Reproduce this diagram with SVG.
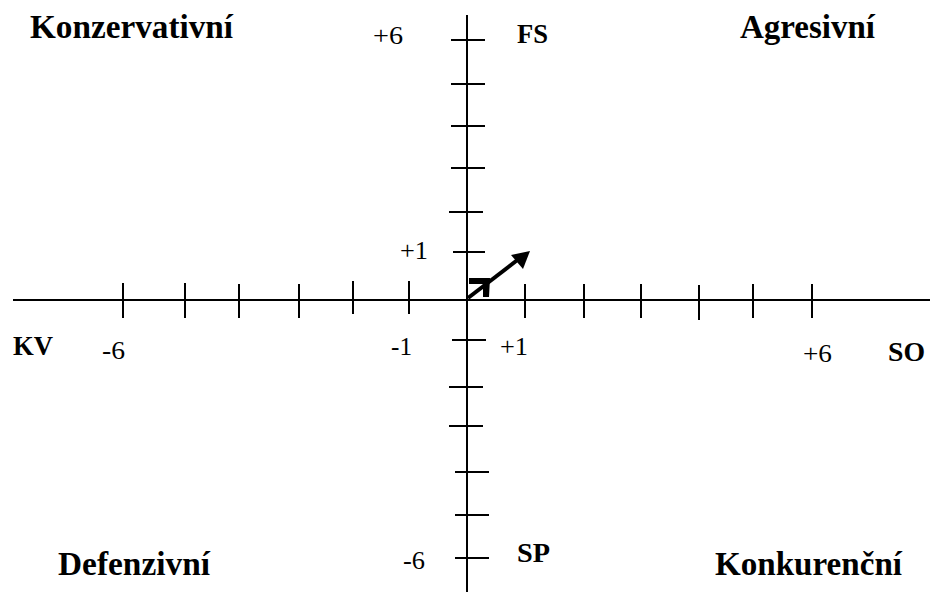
<svg xmlns="http://www.w3.org/2000/svg" width="930" height="592" viewBox="0 0 930 592">
<style>
.ax{stroke:#000;stroke-width:2;fill:none}
.tk{stroke:#000;stroke-width:2}
.q{font-family:"Liberation Serif","Times New Roman",serif;font-weight:bold;font-size:33px;fill:#000}
.ax-l{font-family:"Liberation Serif","Times New Roman",serif;font-weight:bold;font-size:27px;fill:#000}
.n{font-family:"Liberation Serif","Times New Roman",serif;font-size:26px;fill:#000}
</style>
<rect width="930" height="592" fill="#fff"/>
<g id="connectors">
<line class="ax" x1="13" y1="300" x2="930" y2="300"/>
<line class="ax" x1="467" y1="15" x2="467" y2="592"/>
<g class="tk">
<line x1="123" y1="283" x2="123" y2="318"/>
<line x1="185" y1="283" x2="185" y2="318"/>
<line x1="239" y1="284" x2="239" y2="318"/>
<line x1="299" y1="284" x2="299" y2="318"/>
<line x1="353" y1="281" x2="353" y2="314"/>
<line x1="409" y1="281" x2="409" y2="314"/>
<line x1="525" y1="284" x2="525" y2="318"/>
<line x1="584" y1="284" x2="584" y2="318"/>
<line x1="641" y1="284" x2="641" y2="318"/>
<line x1="699" y1="285" x2="699" y2="320"/>
<line x1="753" y1="284" x2="753" y2="318"/>
<line x1="812" y1="284" x2="812" y2="318"/>
<line x1="451" y1="40" x2="485" y2="40"/>
<line x1="451" y1="84" x2="485" y2="84"/>
<line x1="451" y1="126" x2="485" y2="126"/>
<line x1="451" y1="168" x2="485" y2="168"/>
<line x1="449" y1="212" x2="483" y2="212"/>
<line x1="453" y1="252" x2="485" y2="252"/>
<line x1="452" y1="340" x2="486" y2="340"/>
<line x1="449" y1="387" x2="483" y2="387"/>
<line x1="449" y1="426" x2="483" y2="426"/>
<line x1="455" y1="472" x2="489" y2="472"/>
<line x1="455" y1="515" x2="489" y2="515"/>
<line x1="455" y1="558" x2="489" y2="558"/>
</g>
<g id="vector">
<line x1="468" y1="298" x2="520" y2="258" stroke="#000" stroke-width="4"/>
<polygon points="530,251 511,255 523,269" fill="#000"/>
<polygon points="469,278 490,278 489,297 483,297 483,284 469,284" fill="#000"/>
</g>
</g>
<g id="q-konzervativni"><text class="q" x="30" y="38" textLength="203" lengthAdjust="spacingAndGlyphs">Konzervativní</text></g>
<g id="q-agresivni"><text class="q" x="740" y="38" textLength="135" lengthAdjust="spacingAndGlyphs">Agresivní</text></g>
<g id="q-defenzivni"><text class="q" x="58" y="575" textLength="152" lengthAdjust="spacingAndGlyphs">Defenzivní</text></g>
<g id="q-konkurencni"><text class="q" x="715" y="575" textLength="187" lengthAdjust="spacingAndGlyphs">Konkurenční</text></g>
<g id="lbl-kv"><text class="ax-l" x="13" y="355" textLength="40" lengthAdjust="spacingAndGlyphs">KV</text></g>
<g id="lbl-so"><text class="ax-l" x="888" y="361" textLength="37" lengthAdjust="spacingAndGlyphs">SO</text></g>
<g id="lbl-fs"><text class="ax-l" x="517" y="43" textLength="31" lengthAdjust="spacingAndGlyphs">FS</text></g>
<g id="lbl-sp"><text class="ax-l" x="517" y="562" textLength="33" lengthAdjust="spacingAndGlyphs">SP</text></g>
<g id="num-top6"><text class="n" x="373" y="44" textLength="30" lengthAdjust="spacingAndGlyphs">+6</text></g>
<g id="num-top1"><text class="n" x="400" y="259" textLength="28" lengthAdjust="spacingAndGlyphs">+1</text></g>
<g id="num-left1"><text class="n" x="391" y="355" textLength="21" lengthAdjust="spacingAndGlyphs">-1</text></g>
<g id="num-right1"><text class="n" x="500" y="355" textLength="28" lengthAdjust="spacingAndGlyphs">+1</text></g>
<g id="num-bottom6"><text class="n" x="403" y="569" textLength="22" lengthAdjust="spacingAndGlyphs">-6</text></g>
<g id="num-left6"><text class="n" x="102" y="359" textLength="23" lengthAdjust="spacingAndGlyphs">-6</text></g>
<g id="num-right6"><text class="n" x="803" y="362" textLength="29" lengthAdjust="spacingAndGlyphs">+6</text></g>
</svg>
